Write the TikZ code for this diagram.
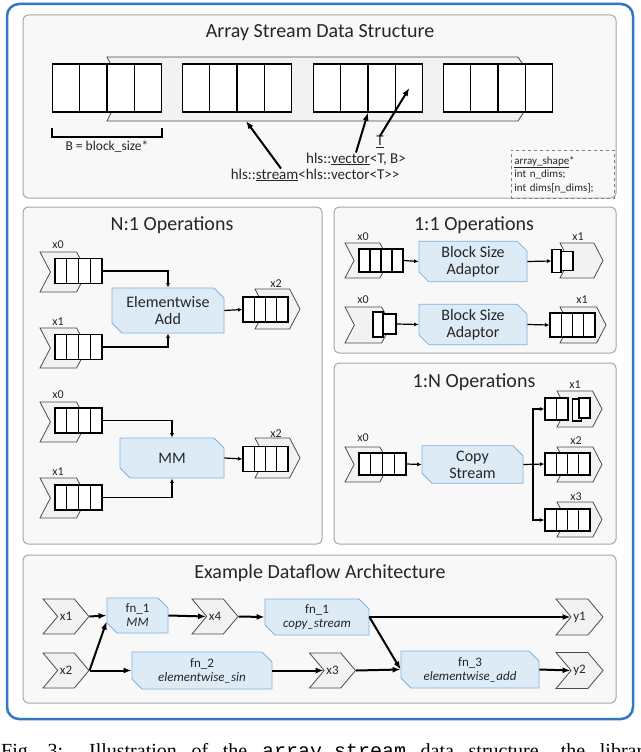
\documentclass[tikz,border=0pt]{standalone}
\usepackage{fontspec}
\setmainfont{Carlito}
\setmonofont{Liberation Mono}
\newfontfamily\capfont{Liberation Serif}
\usetikzlibrary{arrows.meta, positioning, calc, shapes.symbols, shapes.misc}

\definecolor{frameblue}{HTML}{3376C4}
\definecolor{panelline}{HTML}{A6A6A6}
\definecolor{panelfill}{HTML}{F8F8F8}
\definecolor{fnfill}{HTML}{DDEBF7}
\definecolor{fnline}{HTML}{7EB0E0}
\definecolor{chevfill}{HTML}{F2F2F2}
\definecolor{ink}{HTML}{262626}

\tikzset{
  panel/.style={draw=panelline, fill=panelfill, rounded corners=5pt, line width=1pt},
  ptitle/.style={font=\fontsize{20}{24}\selectfont, text=ink, inner sep=0pt},
  fnbox/.style={chamfered rectangle, chamfered rectangle corners={north east, south west},
    chamfered rectangle xsep=5pt, chamfered rectangle ysep=5pt, draw=fnline, fill=fnfill,
    line width=0.8pt, align=center, inner sep=0pt, text=ink, font=\fontsize{16}{17}\selectfont},
  bfn/.style={fnbox, font=\fontsize{13}{14}\selectfont},
  chev/.style={signal, signal from=west, signal to=east, signal pointer angle=125,
    draw=black!70, fill=chevfill, line width=0.8pt, inner sep=0pt},
  bchev/.style={chev, signal pointer angle=100, text=ink, font=\fontsize{13}{13}\selectfont},
  cells/.style={draw=black, fill=white, line width=1.1pt, inner sep=0pt,
    minimum height=25pt, minimum width=#1*11.75pt,
    path picture={\foreach \k in {1,...,#1}
      \draw[line width=1.1pt]
        ($(path picture bounding box.south west)!\k/#1!(path picture bounding box.south east)$) --
        ($(path picture bounding box.north west)!\k/#1!(path picture bounding box.north east)$);}},
  lbl/.style={font=\fontsize{12}{12}\selectfont, text=ink, inner sep=0pt},
  code/.style={font=\fontsize{15}{16}\selectfont, text=ink, inner sep=0pt},
  flow/.style={-{Latex[length=4.5pt,width=4pt]}, line width=1.2pt},
  bigflow/.style={-{Latex[length=8pt,width=6pt]}, line width=2pt},
}

\begin{document}
\begin{tikzpicture}[x=1pt, y=-1pt]
\useasboundingbox (0,0) rectangle (640,752);

% frame and panels
\draw[frameblue, line width=2.5pt, fill=white, rounded corners=12pt] (7,4) rectangle (633,719);
\draw[panel] (23,15) rectangle (616,198);
\draw[panel] (23,207) rectangle (322,544);
\draw[panel] (334,207) rectangle (616,353);
\draw[panel] (334,363) rectangle (616,544);
\draw[panel] (23,555) rectangle (616,703);

\node[ptitle] (t0) at (320,33) {Array Stream Data Structure};
\node[ptitle] (t1) at (172,225) {N:1 Operations};
\node[ptitle] (t2) at (474,225) {1:1 Operations};
\node[ptitle] (t3) at (474,382) {1:N Operations};
\node[ptitle] (t4) at (320,573) {Example Dataflow Architecture};

% array stream
\draw[draw=black!70, fill=chevfill, line width=0.8pt]
  (107,57) -- (518,57) -- (539,89) -- (518,121) -- (107,121) -- (123,89) -- cycle;
\foreach \i/\x in {1/107, 2/237, 3/368, 4/498}
  \node[cells=4, minimum width=109, minimum height=48, line width=1.2pt] (blk\i) at (\x,88) {};
\draw[line width=2pt] (52,128) -- (52,137) -- (162,137) -- (162,128);
\node[font=\fontsize{13.5}{14}\selectfont, text=ink] (bsz) at (107,147) {B = block\_size*};

\coordinate (bandbot) at (246,121);
\node[code] (streamlbl) at (315,175) {hls::\underline{stream}<hls::vector<T>\kern0pt>};
\node[code] (vectorlbl) at (356,159) {hls::\underline{vector}<T, B>};
\node[code] (Tlbl) at (380,142) {\underline{T}};
\draw[bigflow] ([xshift=-34pt]streamlbl.north) -- (bandbot);
\draw[bigflow] (vectorlbl.north) -- (blk3.south);
\draw[bigflow] (Tlbl.north) -- ($(blk3.center)!.75!(blk3.east)$);

\node[draw=gray, dashed, line width=0.8pt, anchor=north west, text width=97pt,
  minimum height=48pt, inner xsep=3pt, inner ysep=2pt, align=left,
  font=\fontsize{11}{13.5}\selectfont, text=ink] (shapebox) at (511,150)
  {\underline{array\_shape}*\\int n\_dims;\\int dims[n\_dims];};

% N:1 elementwise add
\node[chev, minimum width=47, minimum height=40] (a0) at (63.5,272) {};
\node[cells=4] (a0c) at (78.5,271) {};
\node[lbl] (a0l) at (58,245) {x0};
\node[chev, minimum width=47, minimum height=40] (a1) at (63.5,348) {};
\node[cells=4] (a1c) at (78.5,347) {};
\node[lbl] (a1l) at (58,322) {x1};
\node[fnbox, minimum width=112, minimum height=45] (add) at (168,310.5) {Elementwise\\Add};
\node[chev, minimum width=45, minimum height=40] (a2) at (277.5,309) {};
\node[cells=4, minimum width=45] (a2c) at (265.5,309.5) {};
\node[lbl] (a2l) at (276,284) {x2};
\draw[flow] (a0c.east) -| (add.north);
\draw[flow] (a1c.east) -| (add.south);
\draw[flow] (add.east) -- (a2c.west);

% N:1 MM
\node[chev, minimum width=47, minimum height=40] (b0) at (63.5,422) {};
\node[cells=4] (b0c) at (78.5,420.5) {};
\node[lbl] (b0l) at (58,395) {x0};
\node[chev, minimum width=47, minimum height=40] (b1) at (63.5,498) {};
\node[cells=4] (b1c) at (78.5,497.5) {};
\node[lbl] (b1l) at (58,472) {x1};
\node[fnbox, minimum width=104, minimum height=40] (mm) at (172,458) {MM};
\node[chev, minimum width=45, minimum height=40] (b2) at (277.5,458) {};
\node[cells=4, minimum width=45] (b2c) at (265.5,459) {};
\node[lbl] (b2l) at (276,434) {x2};
\draw[flow] (b0c.east) -| (mm.north);
\draw[flow] (b1c.east) -| (mm.south);
\draw[flow] (mm.east) -- (b2c.west);

% 1:1 block size adaptor
\node[chev, minimum width=44, minimum height=35] (c0) at (367,260.5) {};
\node[cells=4, minimum width=44, minimum height=23] (c0c) at (381,260.5) {};
\node[lbl] (c0l) at (363,237) {x0};
\node[fnbox, minimum width=108, minimum height=37] (bsa1) at (473,261.5) {Block Size\\Adaptor};
\node[chev, minimum width=43, minimum height=35] (c1) at (581.5,260.5) {};
\node[cells=1, minimum width=9, minimum height=23] (c1c) at (556.5,261) {};
\node[cells=1, minimum width=12, minimum height=19] (c1d) at (567,261) {};
\node[lbl] (c1l) at (578,237) {x1};
\draw[flow] (c0c.east) -- (bsa1.west);
\draw[flow] (bsa1.east) -- (c1c.west);

\node[chev, minimum width=46, minimum height=36] (d0) at (368,325) {};
\node[cells=1, minimum width=10, minimum height=25] (d0c) at (378,324.5) {};
\node[cells=1, minimum width=13, minimum height=20] (d0d) at (389.5,324) {};
\node[lbl] (d0l) at (363,300) {x0};
\node[fnbox, minimum width=108, minimum height=37] (bsa2) at (473,324.5) {Block Size\\Adaptor};
\node[chev, minimum width=46, minimum height=36] (d1) at (583,325) {};
\node[cells=4, minimum width=45, minimum height=24] (d1c) at (572.5,325) {};
\node[lbl] (d1l) at (582,300) {x1};
\draw[flow] (d0d.east) -- (bsa2.west);
\draw[flow] (bsa2.east) -- (d1c.west);

% 1:N copy stream
\node[chev, minimum width=44, minimum height=35] (e0) at (367,464.5) {};
\node[cells=4, minimum width=47, minimum height=22] (e0c) at (382.5,464) {};
\node[lbl] (e0l) at (363,438) {x0};
\node[fnbox, minimum width=101, minimum height=35] (copy) at (472.5,464.5) {Copy\\Stream};
\node[chev, minimum width=45, minimum height=36] (e1) at (579.5,409) {};
\node[cells=2, minimum width=23, minimum height=22] (e1c) at (556.5,409) {};
\node[cells=1, minimum width=9, minimum height=22] (e1d) at (577,410) {};
\node[cells=1, minimum width=11, minimum height=20] (e1e) at (584.5,408) {};
\node[lbl] (e1l) at (575,385) {x1};
\node[chev, minimum width=45, minimum height=35] (e2) at (579.5,464.5) {};
\node[cells=4, minimum width=45, minimum height=22] (e2c) at (567.5,464) {};
\node[lbl] (e2l) at (576,441) {x2};
\node[chev, minimum width=45, minimum height=35] (e3) at (579.5,519.5) {};
\node[cells=4, minimum width=45, minimum height=22] (e3c) at (567.5,520) {};
\node[lbl] (e3l) at (576,497) {x3};
\coordinate (bus) at (533,464);
\draw[flow] (e0c.east) -- (copy.west);
\draw[flow] (copy.east) -- (e2c.west);
\draw[flow] (bus) |- (e1c.west);
\draw[flow] (bus) |- (e3c.west);

% example dataflow
\node[bchev, minimum width=46, minimum height=35] (f1) at (66,616.5) {x1};
\node[bchev, minimum width=46, minimum height=35] (f2) at (66,670.5) {x2};
\node[bfn, minimum width=61, minimum height=35] (mmfn) at (137.5,615.5) {fn\_1\\\textit{MM}};
\node[bchev, minimum width=46, minimum height=35] (f4) at (215,616.5) {x4};
\node[bfn, minimum width=104, minimum height=36] (csfn) at (317,617) {fn\_1\\\textit{copy\_stream}};
\node[bchev, minimum width=47, minimum height=36] (g1) at (579.5,617) {y1};
\node[bfn, minimum width=140, minimum height=37] (sinfn) at (202,670.5) {fn\_2\\\textit{elementwise\_sin}};
\node[bchev, minimum width=46, minimum height=35] (f3) at (332.5,670.5) {x3};
\node[bfn, minimum width=138, minimum height=37] (addfn) at (470,669.5) {fn\_3\\\textit{elementwise\_add}};
\node[bchev, minimum width=47, minimum height=36] (g2) at (579.5,670.5) {y2};
\draw[bigflow] (f1.east) -- (mmfn.west);
\draw[bigflow] (f2.east) -- ([yshift=-6pt]mmfn.west);
\draw[bigflow] (f2.east) -- (sinfn.west);
\draw[bigflow] (mmfn.east) -- (f4.west);
\draw[bigflow] (f4.east) -- (csfn.west);
\draw[bigflow] (csfn.east) -- (g1.west);
\draw[bigflow] (csfn.east) -- (addfn.west);
\draw[bigflow] (sinfn.east) -- (f3.west);
\draw[bigflow] (f3.east) -- (addfn.west);
\draw[bigflow] (addfn.east) -- (g2.west);

% caption, cut by the page edge
\begin{scope}
\clip (0,712) rectangle (640,752);
\node[anchor=base west, inner sep=0pt, font=\capfont\fontsize{20}{20}\selectfont] (cap) at (1,757)
  {\makebox[652pt][s]{Fig.~3: Illustration of the \texttt{array\_stream} data structure, the library}};
\end{scope}
\end{tikzpicture}
\end{document}
